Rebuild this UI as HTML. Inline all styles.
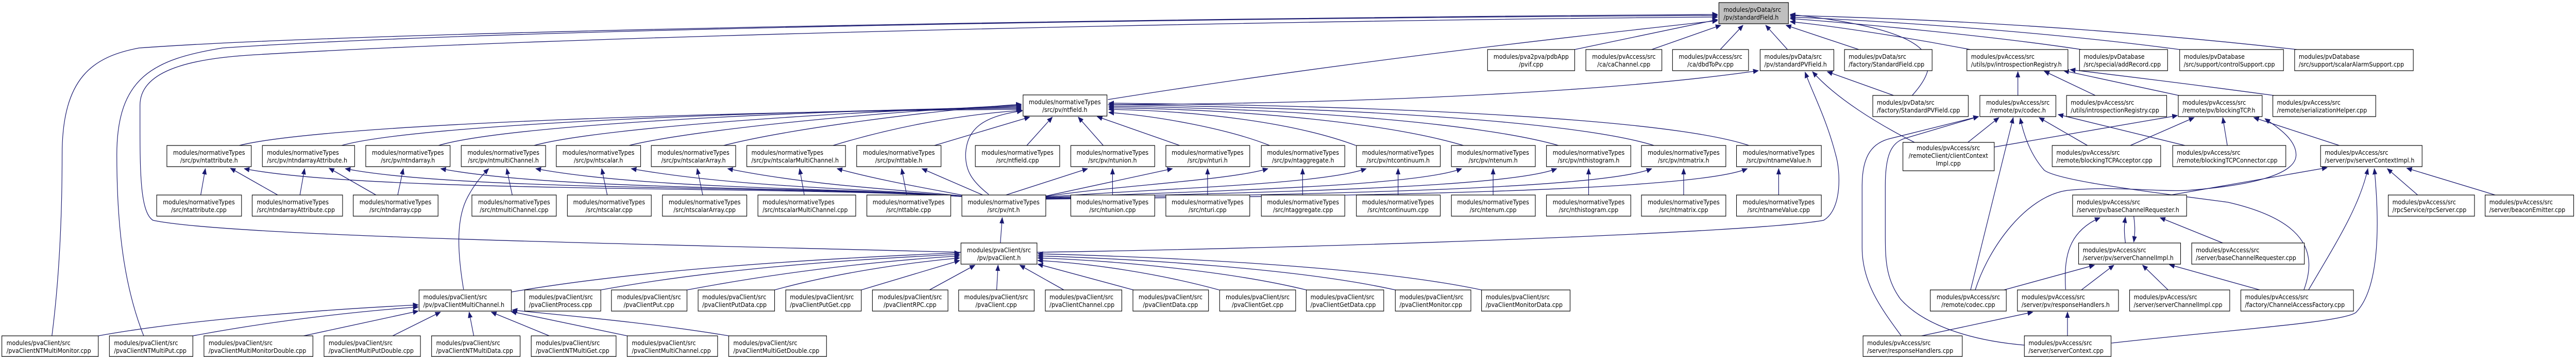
<!DOCTYPE html>
<html><head><meta charset="utf-8"><style>
html,body{margin:0;padding:0;background:#fff;width:100%;height:100%;overflow:hidden;}
svg{display:block;position:absolute;left:0;top:0;width:100vw;height:100vh;}
text{font-family:"DejaVu Sans","Liberation Sans",sans-serif;font-size:12.4px;fill:#000;}
.c{text-anchor:middle;}
rect{fill:#fff;stroke:#000;stroke-width:1.2;}
rect.g{fill:#bfbfbf;}
path{fill:none;stroke:#191970;stroke-width:1.3;marker-end:url(#a);}
</style></head><body>
<svg viewBox="0 0 5557 692" preserveAspectRatio="none" xmlns="http://www.w3.org/2000/svg">
<defs><marker id="a" markerUnits="userSpaceOnUse" markerWidth="12" markerHeight="10" refX="11" refY="5" orient="auto"><polygon points="0,0.5 11,5 0,9.5" fill="#191970" stroke="#191970"/></marker></defs>

<path d="M3397 96 L3705 38"/>
<path d="M3563 96 L3712 49"/>
<path d="M3711 96 L3760 49"/>
<path d="M3856 96 L3809 49"/>
<path d="M4010 96 L3853 49"/>
<path d="M4250 96 C4100 70, 3950 50, 3862 42"/>
<path d="M4490 96 C4300 70, 4000 45, 3862 36"/>
<path d="M4702 96 C4400 60, 4050 40, 3862 33"/>
<path d="M4955 96 C4500 50, 4100 35, 3862 30"/>
<path d="M4125 185 C4190 120, 4195 60, 3862 28"/>
<path d="M2390 193 C2900 120, 3400 70, 3705 40"/>
<path d="M112 651 C125 560, 134 450, 134 300 C134 150, 200 110, 300 93 C800 60, 2500 35, 3705 28"/>
<path d="M310 651 C270 560, 252 450, 252 300 C252 150, 330 115, 480 93 C1100 55, 2600 35, 3705 30"/>
<path d="M2073 489 C1500 475, 500 460, 330 427 C300 410, 302 320, 302 204 C302 140, 400 115, 536 107 C1200 70, 2700 40, 3705 33"/>
<path d="M2390 203 C3000 200, 3500 175, 3793 137"/>
<path d="M2237 489 C2900 480, 3800 450, 3934 427 C3975 405, 3970 330, 3960 300 C3940 230, 3910 180, 3894 140"/>
<path d="M4085 185 L3942 139"/>
<path d="M4130 276 C4050 240, 3960 190, 3910 139"/>
<path d="M4353 185 L4353 139"/>
<path d="M4520 185 L4410 138"/>
<path d="M4700 185 L4452 137"/>
<path d="M4905 185 C4700 160, 4560 145, 4466 135"/>
<path d="M4245 276 L4312 228"/>
<path d="M4505 283 L4399 228"/>
<path d="M4718 283 L4440 222"/>
<path d="M4251 562 L4343 228"/>
<path d="M4970 562 C4995 500, 4990 430, 4806 392 C4620 370, 4440 350, 4410 330 C4380 300, 4365 260, 4358 229"/>
<path d="M4103 653 C4060 600, 4017 550, 4017 480 L4017 360 C4017 300, 4040 276, 4080 268 L4268 226"/>
<path d="M4367 669 C4250 660, 4150 630, 4100 580 C4067 540, 4067 500, 4067 450 L4067 360 C4067 300, 4080 276, 4110 268 L4268 226"/>
<path d="M4302 285 L4697 224"/>
<path d="M4593 283 L4733 228"/>
<path d="M4805 283 L4795 228"/>
<path d="M5050 283 L4862 228"/>
<path d="M4261 562 C4290 480, 4370 380, 4460 369 C4560 360, 4650 372, 4719 369 C4850 360, 4950 340, 4953 302 C4955 270, 4910 245, 4886 230"/>
<path d="M4670 380 L5020 325"/>
<path d="M5218 380 L5150 327"/>
<path d="M5390 380 L5192 326"/>
<path d="M4980 562 C5040 470, 5090 400, 5108 327"/>
<path d="M4555 665 C4800 640, 5060 625, 5083 605 C5130 560, 5135 450, 5122 327"/>
<path d="M4585 471 C4582 450, 4582 440, 4585 421"/>
<path d="M4603 419 C4606 440, 4606 450, 4603 469"/>
<path d="M4795 471 L4660 422"/>
<path d="M4456 561 C4452 500, 4460 450, 4530 422"/>
<path d="M4323 562 L4518 514"/>
<path d="M4490 562 L4560 514"/>
<path d="M4677 562 L4622 514"/>
<path d="M4875 562 L4680 513"/>
<path d="M4140 652 L4385 605"/>
<path d="M4460 651 L4460 605"/>

<path d="M516 282 C700 240, 1600 215, 2203 212"/>
<path d="M737 282 C900 240, 1700 213, 2203 210"/>
<path d="M946 282 C1100 240, 1800 212, 2203 208"/>
<path d="M1152 282 C1300 245, 1900 212, 2203 206"/>
<path d="M1357 282 C1500 250, 1950 212, 2203 204"/>
<path d="M1561 282 C1700 250, 2000 215, 2203 202"/>
<path d="M1797 282 C1950 240, 2100 220, 2205 214"/>
<path d="M2012 283 L2221 227"/>
<path d="M2215 282 L2270 227"/>
<path d="M2380 282 L2326 227"/>
<path d="M2545 282 L2367 226"/>
<path d="M2739 282 C2650 250, 2500 225, 2392 218"/>
<path d="M2925 282 C2800 240, 2600 215, 2392 212"/>
<path d="M3157 282 C3000 240, 2700 212, 2392 209"/>
<path d="M3362 282 C3200 240, 2800 210, 2392 206"/>
<path d="M3568 282 C3400 235, 2900 208, 2392 203"/>
<path d="M3773 282 C3600 230, 3000 205, 2392 200"/>
<path d="M2133 377 C2095 350, 2083 330, 2083 300 C2085 250, 2120 225, 2205 215"/>
<path d="M2078 381 C1700 360, 800 375, 527 327"/>
<path d="M2078 381 C1750 360, 1000 372, 745 327"/>
<path d="M2078 381 C1800 362, 1200 370, 951 327"/>
<path d="M2078 381 C1850 364, 1400 368, 1156 327"/>
<path d="M2078 381 C1900 366, 1600 365, 1362 327"/>
<path d="M2078 380 C1950 368, 1750 360, 1570 327"/>
<path d="M2080 379 C2000 365, 1900 350, 1806 327"/>
<path d="M2120 378 L1989 327"/>
<path d="M2170 378 L2346 327"/>
<path d="M2256 380 L2529 327"/>
<path d="M2256 381 C2400 360, 2650 350, 2735 327"/>
<path d="M2256 382 C2500 365, 2850 358, 2947 327"/>
<path d="M2256 383 C2600 370, 3050 362, 3153 327"/>
<path d="M2256 384 C2700 373, 3250 365, 3358 327"/>
<path d="M2256 385 C2800 377, 3450 368, 3563 327"/>
<path d="M2256 386 C2900 380, 3650 372, 3769 327"/>
<path d="M433 378 L443 327"/>
<path d="M603 380 L497 326"/>
<path d="M647 378 L657 327"/>
<path d="M815 380 L710 326"/>
<path d="M858 378 L870 327"/>
<path d="M1105 378 L1093 327"/>
<path d="M1310 378 L1298 327"/>
<path d="M1516 378 L1504 327"/>
<path d="M1735 378 L1725 327"/>
<path d="M1956 378 L1945 327"/>
<path d="M2400 378 L2400 327"/>
<path d="M2605 378 L2605 327"/>
<path d="M2810 378 L2810 327"/>
<path d="M3016 378 L3016 327"/>
<path d="M3221 378 L3221 327"/>
<path d="M3427 378 L3427 327"/>
<path d="M3632 378 L3632 327"/>
<path d="M3837 378 L3837 327"/>
<path d="M1000 561 C985 480, 985 420, 1010 380 C1025 355, 1040 340, 1054 327"/>
<path d="M2158 471 L2162 422"/>
<path d="M1103 566 C1400 520, 1800 500, 2070 490"/>
<path d="M1296 562 C1550 520, 1850 502, 2070 493"/>
<path d="M1482 562 C1700 525, 1900 506, 2070 496"/>
<path d="M1671 562 C1800 530, 1950 510, 2070 500"/>
<path d="M1858 562 L2070 505"/>
<path d="M2005 562 L2103 514"/>
<path d="M2150 562 L2153 514"/>
<path d="M2295 562 L2200 514"/>
<path d="M2445 562 L2239 512"/>
<path d="M2630 562 C2500 530, 2350 510, 2239 505"/>
<path d="M2818 562 C2650 525, 2400 505, 2239 500"/>
<path d="M3010 562 C2800 520, 2450 502, 2239 496"/>
<path d="M3196 562 C2950 515, 2500 498, 2239 492"/>
<path d="M212 651 C400 620, 700 600, 902 591"/>
<path d="M416 651 C600 620, 780 603, 902 595"/>
<path d="M655 651 L902 603"/>
<path d="M847 651 L950 605"/>
<path d="M1022 651 L1012 605"/>
<path d="M1185 651 L1060 605"/>
<path d="M1353 651 L1103 604"/>
<path d="M1572 651 C1400 625, 1200 610, 1105 601"/>

<rect class="g" x="3708" y="5" width="150" height="41"/><text x="3718" y="23">modules/pvData/src</text><text x="3718" y="38">/pv/standardField.h</text>

<rect x="3209" y="96" width="188" height="41"/><text class="c" x="3303" y="114">modules/pva2pva/pdbApp</text><text class="c" x="3303" y="129">/pvif.cpp</text>
<rect x="3421" y="96" width="164" height="41"/><text class="c" x="3503" y="114">modules/pvAccess/src</text><text class="c" x="3503" y="129">/ca/caChannel.cpp</text>
<rect x="3608" y="96" width="164" height="41"/><text class="c" x="3690" y="114">modules/pvAccess/src</text><text class="c" x="3690" y="129">/ca/dbdToPv.cpp</text>
<rect x="3797" y="96" width="159" height="41"/><text x="3806" y="114">modules/pvData/src</text><text x="3806" y="129">/pv/standardPVField.h</text>
<rect x="3979" y="96" width="189" height="41"/><text x="3988" y="114">modules/pvData/src</text><text x="3988" y="129">/factory/StandardField.cpp</text>
<rect x="4243" y="96" width="218" height="41"/><text x="4252" y="114">modules/pvAccess/src</text><text x="4252" y="129">/utils/pv/introspectionRegistry.h</text>
<rect x="4486" y="96" width="190" height="41"/><text x="4495" y="114">modules/pvDatabase</text><text x="4495" y="129">/src/special/addRecord.cpp</text>
<rect x="4702" y="96" width="224" height="41"/><text x="4711" y="114">modules/pvDatabase</text><text x="4711" y="129">/src/support/controlSupport.cpp</text>
<rect x="4950" y="96" width="256" height="41"/><text x="4959" y="114">modules/pvDatabase</text><text x="4959" y="129">/src/support/scalarAlarmSupport.cpp</text>

<rect x="2207" y="184" width="181" height="41"/><text class="c" x="2297" y="202">modules/normativeTypes</text><text class="c" x="2297" y="217">/src/pv/ntfield.h</text>
<rect x="4040" y="185" width="206" height="41"/><text x="4049" y="203">modules/pvData/src</text><text x="4049" y="218">/factory/StandardPVField.cpp</text>
<rect x="4271" y="185" width="164" height="41"/><text class="c" x="4353" y="203">modules/pvAccess/src</text><text class="c" x="4353" y="218">/remote/pv/codec.h</text>
<rect x="4458" y="185" width="216" height="41"/><text x="4467" y="203">modules/pvAccess/src</text><text x="4467" y="218">/utils/introspectionRegistry.cpp</text>
<rect x="4699" y="185" width="181" height="41"/><text x="4708" y="203">modules/pvAccess/src</text><text x="4708" y="218">/remote/pv/blockingTCP.h</text>
<rect x="4903" y="185" width="222" height="41"/><text x="4912" y="203">modules/pvAccess/src</text><text x="4912" y="218">/remote/serializationHelper.cpp</text>

<rect x="360" y="282" width="182" height="41"/><text class="c" x="451" y="300">modules/normativeTypes</text><text class="c" x="451" y="315">/src/pv/ntattribute.h</text>
<rect x="566" y="282" width="199" height="41"/><text x="576" y="300">modules/normativeTypes</text><text x="576" y="315">/src/pv/ntndarrayAttribute.h</text>
<rect x="789" y="282" width="182" height="41"/><text class="c" x="880" y="300">modules/normativeTypes</text><text class="c" x="880" y="315">/src/pv/ntndarray.h</text>
<rect x="995" y="282" width="182" height="41"/><text class="c" x="1086" y="300">modules/normativeTypes</text><text class="c" x="1086" y="315">/src/pv/ntmultiChannel.h</text>
<rect x="1200" y="282" width="182" height="41"/><text class="c" x="1291" y="300">modules/normativeTypes</text><text class="c" x="1291" y="315">/src/pv/ntscalar.h</text>
<rect x="1405" y="282" width="182" height="41"/><text class="c" x="1496" y="300">modules/normativeTypes</text><text class="c" x="1496" y="315">/src/pv/ntscalarArray.h</text>
<rect x="1611" y="282" width="213" height="41"/><text x="1621" y="300">modules/normativeTypes</text><text x="1621" y="315">/src/pv/ntscalarMultiChannel.h</text>
<rect x="1848" y="282" width="182" height="41"/><text class="c" x="1939" y="300">modules/normativeTypes</text><text class="c" x="1939" y="315">/src/pv/nttable.h</text>
<rect x="2104" y="282" width="182" height="41"/><text class="c" x="2195" y="300">modules/normativeTypes</text><text class="c" x="2195" y="315">/src/ntfield.cpp</text>
<rect x="2310" y="282" width="181" height="41"/><text class="c" x="2400" y="300">modules/normativeTypes</text><text class="c" x="2400" y="315">/src/pv/ntunion.h</text>
<rect x="2515" y="282" width="181" height="41"/><text class="c" x="2605" y="300">modules/normativeTypes</text><text class="c" x="2605" y="315">/src/pv/nturi.h</text>
<rect x="2721" y="282" width="180" height="41"/><text class="c" x="2811" y="300">modules/normativeTypes</text><text class="c" x="2811" y="315">/src/pv/ntaggregate.h</text>
<rect x="2926" y="282" width="181" height="41"/><text class="c" x="3016" y="300">modules/normativeTypes</text><text class="c" x="3016" y="315">/src/pv/ntcontinuum.h</text>
<rect x="3131" y="282" width="181" height="41"/><text class="c" x="3221" y="300">modules/normativeTypes</text><text class="c" x="3221" y="315">/src/pv/ntenum.h</text>
<rect x="3336" y="282" width="182" height="41"/><text class="c" x="3427" y="300">modules/normativeTypes</text><text class="c" x="3427" y="315">/src/pv/nthistogram.h</text>
<rect x="3541" y="282" width="182" height="41"/><text class="c" x="3632" y="300">modules/normativeTypes</text><text class="c" x="3632" y="315">/src/pv/ntmatrix.h</text>
<rect x="3746" y="282" width="183" height="41"/><text class="c" x="3837" y="300">modules/normativeTypes</text><text class="c" x="3837" y="315">/src/pv/ntnameValue.h</text>
<rect x="4105" y="276" width="197" height="55"/><text class="c" x="4203" y="291">modules/pvAccess/src</text><text class="c" x="4203" y="306">/remoteClient/clientContext</text><text class="c" x="4203" y="321">Impl.cpp</text>
<rect x="4427" y="282" width="234" height="41"/><text x="4436" y="300">modules/pvAccess/src</text><text x="4436" y="315">/remote/blockingTCPAcceptor.cpp</text>
<rect x="4687" y="282" width="244" height="41"/><text x="4696" y="300">modules/pvAccess/src</text><text x="4696" y="315">/remote/blockingTCPConnector.cpp</text>
<rect x="5006" y="282" width="219" height="41"/><text x="5015" y="300">modules/pvAccess/src</text><text x="5015" y="315">/server/pv/serverContextImpl.h</text>

<rect x="338" y="378" width="183" height="41"/><text class="c" x="429" y="396">modules/normativeTypes</text><text class="c" x="429" y="411">/src/ntattribute.cpp</text>
<rect x="544" y="378" width="195" height="41"/><text x="554" y="396">modules/normativeTypes</text><text x="554" y="411">/src/ntndarrayAttribute.cpp</text>
<rect x="762" y="378" width="183" height="41"/><text class="c" x="853" y="396">modules/normativeTypes</text><text class="c" x="853" y="411">/src/ntndarray.cpp</text>
<rect x="1018" y="378" width="182" height="41"/><text class="c" x="1109" y="396">modules/normativeTypes</text><text class="c" x="1109" y="411">/src/ntmultiChannel.cpp</text>
<rect x="1224" y="378" width="181" height="41"/><text class="c" x="1314" y="396">modules/normativeTypes</text><text class="c" x="1314" y="411">/src/ntscalar.cpp</text>
<rect x="1429" y="378" width="182" height="41"/><text class="c" x="1520" y="396">modules/normativeTypes</text><text class="c" x="1520" y="411">/src/ntscalarArray.cpp</text>
<rect x="1635" y="378" width="211" height="41"/><text x="1645" y="396">modules/normativeTypes</text><text x="1645" y="411">/src/ntscalarMultiChannel.cpp</text>
<rect x="1870" y="378" width="181" height="41"/><text class="c" x="1960" y="396">modules/normativeTypes</text><text class="c" x="1960" y="411">/src/nttable.cpp</text>
<rect x="2075" y="378" width="181" height="41"/><text class="c" x="2165" y="396">modules/normativeTypes</text><text class="c" x="2165" y="411">/src/pv/nt.h</text>
<rect x="2310" y="378" width="181" height="41"/><text class="c" x="2400" y="396">modules/normativeTypes</text><text class="c" x="2400" y="411">/src/ntunion.cpp</text>
<rect x="2515" y="378" width="181" height="41"/><text class="c" x="2605" y="396">modules/normativeTypes</text><text class="c" x="2605" y="411">/src/nturi.cpp</text>
<rect x="2721" y="378" width="180" height="41"/><text class="c" x="2811" y="396">modules/normativeTypes</text><text class="c" x="2811" y="411">/src/ntaggregate.cpp</text>
<rect x="2926" y="378" width="181" height="41"/><text class="c" x="3016" y="396">modules/normativeTypes</text><text class="c" x="3016" y="411">/src/ntcontinuum.cpp</text>
<rect x="3131" y="378" width="181" height="41"/><text class="c" x="3221" y="396">modules/normativeTypes</text><text class="c" x="3221" y="411">/src/ntenum.cpp</text>
<rect x="3336" y="378" width="182" height="41"/><text class="c" x="3427" y="396">modules/normativeTypes</text><text class="c" x="3427" y="411">/src/nthistogram.cpp</text>
<rect x="3541" y="378" width="182" height="41"/><text class="c" x="3632" y="396">modules/normativeTypes</text><text class="c" x="3632" y="411">/src/ntmatrix.cpp</text>
<rect x="3746" y="378" width="183" height="41"/><text class="c" x="3837" y="396">modules/normativeTypes</text><text class="c" x="3837" y="411">/src/ntnameValue.cpp</text>
<rect x="4471" y="378" width="246" height="41"/><text x="4480" y="396">modules/pvAccess/src</text><text x="4480" y="411">/server/pv/baseChannelRequester.h</text>
<rect x="5152" y="378" width="186" height="41"/><text x="5161" y="396">modules/pvAccess/src</text><text x="5161" y="411">/rpcService/rpcServer.cpp</text>
<rect x="5361" y="378" width="191" height="41"/><text x="5370" y="396">modules/pvAccess/src</text><text x="5370" y="411">/server/beaconEmitter.cpp</text>

<rect x="2073" y="471" width="164" height="41"/><text class="c" x="2155" y="489">modules/pvaClient/src</text><text class="c" x="2155" y="504">/pv/pvaClient.h</text>
<rect x="4484" y="471" width="220" height="41"/><text x="4493" y="489">modules/pvAccess/src</text><text x="4493" y="504">/server/pv/serverChannelImpl.h</text>
<rect x="4728" y="471" width="243" height="41"/><text x="4737" y="489">modules/pvAccess/src</text><text x="4737" y="504">/server/baseChannelRequester.cpp</text>

<rect x="904" y="562" width="199" height="41"/><text x="913" y="580">modules/pvaClient/src</text><text x="913" y="595">/pv/pvaClientMultiChannel.h</text>
<rect x="1132" y="562" width="164" height="41"/><text x="1141" y="580">modules/pvaClient/src</text><text x="1141" y="595">/pvaClientProcess.cpp</text>
<rect x="1319" y="562" width="163" height="41"/><text class="c" x="1400" y="580">modules/pvaClient/src</text><text class="c" x="1400" y="595">/pvaClientPut.cpp</text>
<rect x="1506" y="562" width="165" height="41"/><text x="1515" y="580">modules/pvaClient/src</text><text x="1515" y="595">/pvaClientPutData.cpp</text>
<rect x="1695" y="562" width="163" height="41"/><text x="1704" y="580">modules/pvaClient/src</text><text x="1704" y="595">/pvaClientPutGet.cpp</text>
<rect x="1882" y="562" width="163" height="41"/><text class="c" x="1963" y="580">modules/pvaClient/src</text><text class="c" x="1963" y="595">/pvaClientRPC.cpp</text>
<rect x="2068" y="562" width="163" height="41"/><text class="c" x="2149" y="580">modules/pvaClient/src</text><text class="c" x="2149" y="595">/pvaClient.cpp</text>
<rect x="2255" y="562" width="165" height="41"/><text x="2264" y="580">modules/pvaClient/src</text><text x="2264" y="595">/pvaClientChannel.cpp</text>
<rect x="2444" y="562" width="163" height="41"/><text class="c" x="2525" y="580">modules/pvaClient/src</text><text class="c" x="2525" y="595">/pvaClientData.cpp</text>
<rect x="2631" y="562" width="164" height="41"/><text class="c" x="2713" y="580">modules/pvaClient/src</text><text class="c" x="2713" y="595">/pvaClientGet.cpp</text>
<rect x="2818" y="562" width="167" height="41"/><text x="2827" y="580">modules/pvaClient/src</text><text x="2827" y="595">/pvaClientGetData.cpp</text>
<rect x="3010" y="562" width="163" height="41"/><text x="3019" y="580">modules/pvaClient/src</text><text x="3019" y="595">/pvaClientMonitor.cpp</text>
<rect x="3196" y="562" width="191" height="41"/><text x="3205" y="580">modules/pvaClient/src</text><text x="3205" y="595">/pvaClientMonitorData.cpp</text>
<rect x="4164" y="562" width="164" height="41"/><text class="c" x="4246" y="580">modules/pvAccess/src</text><text class="c" x="4246" y="595">/remote/codec.cpp</text>
<rect x="4352" y="562" width="218" height="41"/><text x="4361" y="580">modules/pvAccess/src</text><text x="4361" y="595">/server/pv/responseHandlers.h</text>
<rect x="4594" y="562" width="216" height="41"/><text x="4603" y="580">modules/pvAccess/src</text><text x="4603" y="595">/server/serverChannelImpl.cpp</text>
<rect x="4834" y="562" width="243" height="41"/><text x="4843" y="580">modules/pvAccess/src</text><text x="4843" y="595">/factory/ChannelAccessFactory.cpp</text>

<rect x="4" y="651" width="208" height="40"/><text x="14" y="669">modules/pvaClient/src</text><text x="14" y="684">/pvaClientNTMultiMonitor.cpp</text>
<rect x="236" y="651" width="180" height="40"/><text x="246" y="669">modules/pvaClient/src</text><text x="246" y="684">/pvaClientNTMultiPut.cpp</text>
<rect x="440" y="651" width="235" height="40"/><text x="450" y="669">modules/pvaClient/src</text><text x="450" y="684">/pvaClientMultiMonitorDouble.cpp</text>
<rect x="699" y="651" width="208" height="40"/><text x="709" y="669">modules/pvaClient/src</text><text x="709" y="684">/pvaClientMultiPutDouble.cpp</text>
<rect x="931" y="651" width="191" height="40"/><text x="941" y="669">modules/pvaClient/src</text><text x="941" y="684">/pvaClientNTMultiData.cpp</text>
<rect x="1146" y="651" width="183" height="40"/><text x="1156" y="669">modules/pvaClient/src</text><text x="1156" y="684">/pvaClientNTMultiGet.cpp</text>
<rect x="1353" y="651" width="195" height="40"/><text x="1363" y="669">modules/pvaClient/src</text><text x="1363" y="684">/pvaClientMultiChannel.cpp</text>
<rect x="1572" y="651" width="211" height="40"/><text x="1582" y="669">modules/pvaClient/src</text><text x="1582" y="684">/pvaClientMultiGetDouble.cpp</text>
<rect x="4019" y="651" width="214" height="40"/><text x="4028" y="669">modules/pvAccess/src</text><text x="4028" y="684">/server/responseHandlers.cpp</text>
<rect x="4367" y="651" width="187" height="40"/><text x="4376" y="669">modules/pvAccess/src</text><text x="4376" y="684">/server/serverContext.cpp</text>
</svg>
</body></html>
